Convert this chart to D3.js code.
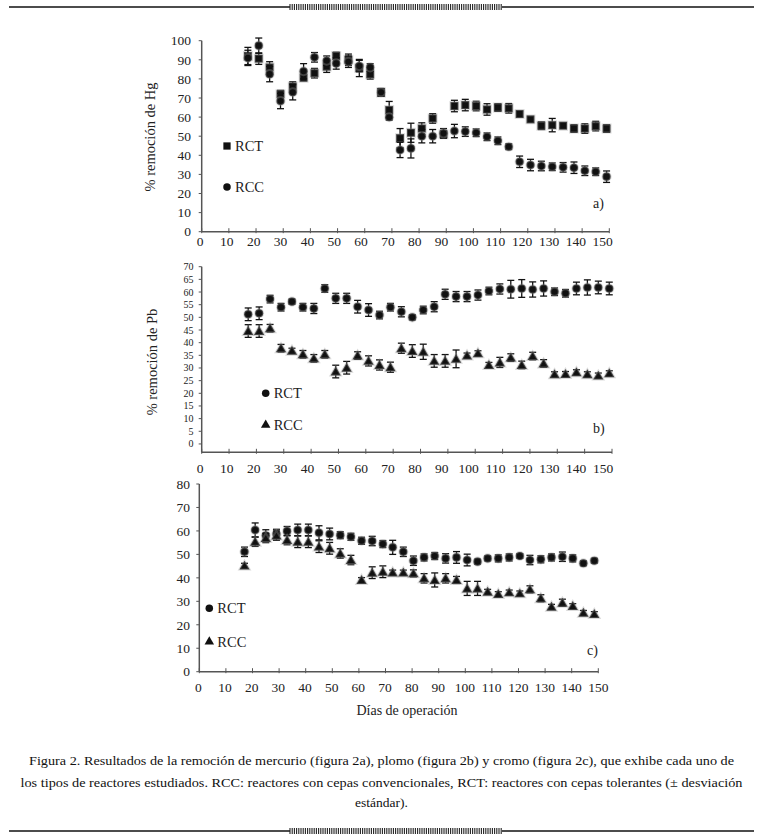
<!DOCTYPE html>
<html><head><meta charset="utf-8">
<script src="https://cdnjs.cloudflare.com/ajax/libs/d3/7.8.5/d3.min.js"></script>
<style>body{margin:0;background:#fff} svg{display:block}</style>
</head><body><svg id="c" width="763" height="840"></svg>
<script>
// ---- data ----
const xTicks = [0,10,20,30,40,50,60,70,80,90,100,110,120,130,140,150];
const yTicksA = [0,10,20,30,40,50,60,70,80,90,100];
const yTicksB = [0,5,10,15,20,25,30,35,40,45,50,55,60,65,70];
const yTicksC = [0,10,20,30,40,50,60,70,80];

const daysA = [17,21,25,29,33.5,37.5,41.5,46,49.5,54,58,62,66,69,73,77,81,85,89,93,97,101,105,109,113,117,121,125,129,133,137,141,145,149];
const hgRCT = [92,90.6,86,72,76,80.6,83,86.4,92,90,85.7,82.4,72.9,63.7,49,51.8,54,59.3,51,65.8,66.3,65.8,64,65,64.6,61.6,58.8,55.5,55.8,55.5,54,54,55.3,54];
const hgRCTsd = [4.5,3,3,2,2.5,1.5,2.5,3,2,3,4.5,2.5,2,4.5,5,5,3,2.5,2,3,3,2.5,3,2,2.5,1.5,1.5,2,3.5,1,2,2.5,2.5,2];
const hgRCC = [91,97.4,82.5,68.4,73,84,91.3,89.5,88.1,89,86.7,86,73,59.9,42.8,43.6,50,50,51.5,52.7,52.4,51.8,49.7,47.6,44.5,36.6,34.9,34.4,34,33.7,33.5,31.9,31.4,28.8];
const hgRCCsd = [4,4,4,4,4,4,2.5,2.5,3,3,3,2,2,1.5,4,5,3.5,3.5,2.5,3.5,2.5,2,2,2,1.5,3,3,2.5,2,2.5,3,2.5,2,3];

const daysB = [17,21,25,29,33,37,41,45,49,53,57,61,65,69,73,77,81,85,89,93,97,101,105,109,113,117,121,125,129,133,137,141,145,149];
const pbRCT = [51.2,51.6,57.2,54,56.2,54,53.5,61.4,57.5,57.5,54.2,52.9,50.9,54,52.2,50,52.9,54.2,59.1,58.2,58.2,58.8,60.4,61.2,61.1,61.4,61,61.4,60.1,59.5,61.4,61.8,61.8,61.4];
const pbRCTsd = [2.5,2.5,1.5,1.5,1,1.5,2,1.5,2,2,2.5,2.5,1.5,1.5,2,1,1.5,2,2,2,2,2,1.5,2,3.5,3.5,3,3,1.5,1.5,2.5,3,2.5,2.5];
const pbRCC = [44.6,44.6,45.7,37.8,36.8,35.4,33.8,35.4,28.6,30.1,34.9,32.8,31.2,30.3,37.8,36.7,36.4,32.8,32.8,33.6,34.9,35.8,31.2,32.2,34.1,31.2,34.7,31.8,27.5,27.6,28.3,27.5,27,27.9];
const pbRCCsd = [2.5,2.5,1.5,1.5,1,1.5,1.5,1.5,2.5,2.5,1.5,2,2,2,2,2.5,3,2.5,2.5,3.5,1,1,1,2,1.5,1.5,1.5,1.5,1,1,1,1,1,1];

const daysC = [17,21,25,29,33,37,41,45,49,53,57,61,65,69,72.7,76.7,80.5,84.5,88.5,92.6,96.7,100.7,104.6,108.4,112.4,116.5,120.5,124.3,128.4,132.4,136.5,140.4,144.4,148.5];
const crRCT = [51.1,60.4,58,58.7,59.9,60.4,60.4,59.2,58.7,58.2,57.5,55.8,55.7,54.4,53,51.1,47.3,48.7,49.3,48.3,48.7,47.6,46.9,48.3,48.3,48.7,49.3,47.6,47.9,48.7,49,48.3,46.2,47.3];
const crRCTsd = [2,3,2.5,2,2,2.5,2.5,3,2.5,1.5,1.5,1.5,2,1.5,3,2,2,1.5,1.5,2,2.5,2.5,1,1,1.5,1.5,1,2,1.5,1.5,2,1.5,1,1];
const crRCC = [45.2,55.4,57,58,56.1,55.4,55.4,53.3,52.6,50.4,47.6,39.1,42.2,42.6,42.3,42.3,41.9,39.8,39.1,39.8,39.1,35.5,35.5,34.1,33.1,33.8,33.4,35.1,31.3,27.7,29.4,28,25.1,24.6];
const crRCCsd = [1,2,2,2,2,2.5,2.5,2.5,2.5,2,2,1,2.5,2.5,1,1,1.5,2,3,2,1.5,3,3,1,1,1,1,1.5,1.5,1,1.5,1,1,1];

const legendLabels = ["RCT","RCC"];
const captionLines = [
  "Figura 2. Resultados de la remoción de mercurio (figura 2a), plomo (figura 2b) y cromo (figura 2c), que exhibe cada uno de",
  "los tipos de reactores estudiados. RCC: reactores con cepas convencionales, RCT: reactores con cepas tolerantes (± desviación",
  "estándar)."
];

// ---- drawing ----
const svg = d3.select("#c");
const FONT = "'Liberation Serif','DejaVu Serif',serif";
const INK = "#111";
const AX = "#555";

function marker(type, size){
  const t = type==="square"?d3.symbolSquare:type==="circle"?d3.symbolCircle:d3.symbolTriangle;
  return d3.symbol().type(t).size(size)();
}
const mSize = {square:62, circle:52, triangle:46};

function panel(cfg){
  const g = svg.append("g");
  const x = d3.scaleLinear().domain([0,150]).range(cfg.xr);
  const y = d3.scaleLinear().domain(cfg.yd).range(cfg.yr);
  const xl = d3.scaleLinear().domain([0,150]).range(cfg.xlab);
  const axisY = cfg.axisY;
  // x axis line
  g.append("line").attr("x1",cfg.xr[0]).attr("x2",cfg.xr[1]).attr("y1",axisY).attr("y2",axisY)
    .attr("stroke",AX).attr("stroke-width",1.5);
  g.selectAll(".xt").data(xTicks).join("line")
    .attr("x1",d=>x(d)).attr("x2",d=>x(d)).attr("y1",axisY-3.5).attr("y2",axisY+1.5)
    .attr("stroke",AX).attr("stroke-width",1);
  g.selectAll(".xl").data(xTicks).join("text")
    .attr("x",d=>xl(d)).attr("y",cfg.xLabY).attr("text-anchor","middle")
    .attr("font-family",FONT).attr("font-size",13.5).attr("fill","#222").text(d=>d);
  // y axis
  g.append("line").attr("x1",cfg.xr[0]).attr("x2",cfg.xr[0]).attr("y1",y(cfg.yTicks[cfg.yTicks.length-1])).attr("y2",axisY)
    .attr("stroke",AX).attr("stroke-width",1.5);
  g.selectAll(".yt").data(cfg.yTicks).join("line")
    .attr("x1",cfg.xr[0]-3).attr("x2",cfg.xr[0]).attr("y1",d=>y(d)).attr("y2",d=>y(d))
    .attr("stroke",AX).attr("stroke-width",1);
  g.selectAll(".yl").data(cfg.yTicks).join("text")
    .attr("x",cfg.yLabX).attr("y",d=>y(d)).attr("dy","0.35em").attr("text-anchor","end")
    .attr("font-family",FONT).attr("font-size",cfg.yFont).attr("fill","#222").text(d=>d);
  // title
  if(cfg.title){
    g.append("text").attr("transform",`translate(${cfg.titlePos[0]},${cfg.titlePos[1]}) rotate(-90)`)
      .attr("text-anchor","middle").attr("dy","0.35em").attr("font-family",FONT).attr("font-size",14.5)
      .attr("fill","#222").text(cfg.title);
  }
  // series
  cfg.series.forEach(s=>{
    const pts = s.vals.map((v,i)=>({d:cfg.days[i],v,sd:s.sd[i]}));
    const eg = g.append("g").attr("stroke",INK).attr("stroke-width",1.3);
    pts.forEach(p=>{
      const cx = x(p.d), y1 = y(p.v+p.sd), y2 = y(p.v-p.sd);
      eg.append("line").attr("x1",cx).attr("x2",cx).attr("y1",y1).attr("y2",y2);
      eg.append("line").attr("x1",cx-3.5).attr("x2",cx+3.5).attr("y1",y1).attr("y2",y1);
      eg.append("line").attr("x1",cx-3.5).attr("x2",cx+3.5).attr("y1",y2).attr("y2",y2);
    });
    g.selectAll(null).data(pts).join("path")
      .attr("d",marker(s.shape,mSize[s.shape]))
      .attr("transform",p=>`translate(${x(p.d)},${y(p.v)+(s.shape==="triangle"?1:0)})`)
      .attr("fill",INK).attr("stroke","#999").attr("stroke-opacity",0.35).attr("stroke-width",2);
  });
  // legend
  cfg.series.forEach((s,i)=>{
    const [lx,ly] = cfg.legend[i];
    g.append("path").attr("d",marker(s.shape,mSize[s.shape]*0.85)).attr("transform",`translate(${lx},${ly})`).attr("fill",INK);
    g.append("text").attr("x",lx+8).attr("y",ly).attr("dy","0.35em").attr("font-family",FONT)
      .attr("font-size",14.5).attr("fill","#222").text(legendLabels[s.li]);
  });
  g.append("text").attr("x",cfg.tag[0]).attr("y",cfg.tag[1]).attr("dy","0.35em").attr("font-family",FONT)
    .attr("font-size",14).attr("fill","#222").text(cfg.tagText);
}

panel({xr:[201.7,609.3], xlab:[200,602.7], yd:[0,100], yr:[231.7,40.7], axisY:231.7, xLabY:245.5,
  yTicks:yTicksA, yLabX:191, yFont:13.5, title:"% remoción de Hg", titlePos:[150,137],
  days:daysA,
  series:[{vals:hgRCT,sd:hgRCTsd,shape:"square",li:0},{vals:hgRCC,sd:hgRCCsd,shape:"circle",li:1}],
  legend:[[227,146],[227,187]], tag:[593,203], tagText:"a)"});

panel({xr:[201.7,612], xlab:[200,603], yd:[-3.3,70], yr:[452.3,266.7], axisY:452.3, xLabY:472.5,
  yTicks:yTicksB, yLabX:193.5, yFont:10, title:"% remoción de Pb", titlePos:[152,362],
  days:daysB,
  series:[{vals:pbRCT,sd:pbRCTsd,shape:"circle",li:0},{vals:pbRCC,sd:pbRCCsd,shape:"triangle",li:1}],
  legend:[[265.7,393.3],[265.7,425]], tag:[593,428], tagText:"b)"});

panel({xr:[199.3,598.3], xlab:[198.3,598.3], yd:[0,80], yr:[671.7,484], axisY:671.7, xLabY:691.5,
  yTicks:yTicksC, yLabX:190, yFont:13.5, title:null,
  days:daysC,
  series:[{vals:crRCT,sd:crRCTsd,shape:"circle",li:0},{vals:crRCC,sd:crRCCsd,shape:"triangle",li:1}],
  legend:[[209.3,608.3],[209.3,641.7]], tag:[587,650], tagText:"c)"});

svg.append("text").attr("x",407).attr("y",710).attr("dy","0.35em").attr("text-anchor","middle")
  .attr("font-family",FONT).attr("font-size",14).attr("fill","#222").text("Días de operación");

// caption
const capY = [760,782,802];
const capW = [705,722,null];
captionLines.forEach((t,i)=>{
  const tx = svg.append("text").attr("x",381.5).attr("y",capY[i]).attr("dy","0.35em").attr("text-anchor","middle")
    .attr("font-family",FONT).attr("font-size",13.5).attr("fill","#111").text(t);
  if(capW[i]) tx.attr("textLength",capW[i]).attr("lengthAdjust","spacingAndGlyphs");
});

// decorative rules
function rule(yy){
  svg.append("line").attr("x1",9).attr("x2",754).attr("y1",yy).attr("y2",yy).attr("stroke","#111").attr("stroke-width",1.5);
  svg.append("rect").attr("x",290).attr("y",yy-3).attr("width",212).attr("height",6).attr("fill","#fff");
  const hs = d3.range(290,502,2.2);
  svg.selectAll(null).data(hs).join("line")
    .attr("x1",d=>d).attr("x2",d=>d).attr("y1",yy-3).attr("y2",yy+3).attr("stroke","#222").attr("stroke-width",1.1);
}
rule(7); rule(831);
</script>
</body></html>
